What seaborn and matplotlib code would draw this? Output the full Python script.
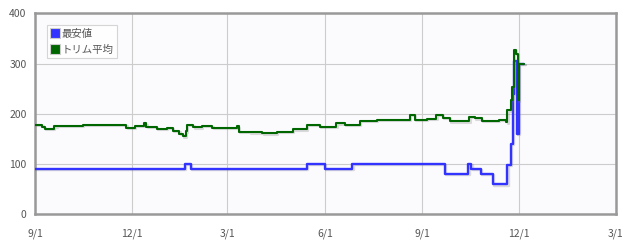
import matplotlib
matplotlib.use("Agg")
import matplotlib.pyplot as plt
import matplotlib.patheffects as pe
from matplotlib.patches import Patch
import seaborn as sns
import pandas as pd

low_dates = ["2022-09-01", "2023-01-20", "2023-01-26", "2023-05-15", "2023-06-01",
             "2023-06-27", "2023-09-22", "2023-10-14", "2023-10-17", "2023-10-26",
             "2023-11-06", "2023-11-20", "2023-11-23", "2023-11-25", "2023-11-26",
             "2023-11-29", "2023-12-01", "2023-12-06"]
low_values = [90, 100, 90, 100, 90, 100, 80, 100, 90, 80, 60, 98, 140, 240, 305, 160, 300, 300]

trim_dates = ["2022-09-01", "2022-09-08", "2022-09-10", "2022-09-19", "2022-09-21",
              "2022-10-16", "2022-11-26", "2022-12-04", "2022-12-13", "2022-12-15",
              "2022-12-25", "2023-01-03", "2023-01-09", "2023-01-15", "2023-01-18",
              "2023-01-21", "2023-01-22", "2023-01-28", "2023-02-05", "2023-02-15",
              "2023-03-10", "2023-03-12", "2023-03-22", "2023-04-03", "2023-04-17",
              "2023-05-02", "2023-05-15", "2023-05-27", "2023-06-12", "2023-06-20",
              "2023-07-04", "2023-07-20", "2023-08-20", "2023-08-25", "2023-09-05",
              "2023-09-14", "2023-09-20", "2023-09-27", "2023-10-15", "2023-10-20",
              "2023-10-27", "2023-11-12", "2023-11-19", "2023-11-20", "2023-11-23",
              "2023-11-24", "2023-11-26", "2023-11-28", "2023-11-30", "2023-12-01",
              "2023-12-06"]
trim_values = [178, 174, 170, 175, 176, 178, 172, 176, 181, 174,
               170, 172, 166, 160, 155, 165, 178, 173, 176, 172,
               175, 164, 163, 161, 164, 169, 178, 174, 181, 178,
               186, 188, 198, 188, 190, 198, 192, 185, 194, 191,
               186, 188, 183, 207, 227, 254, 327, 320, 227, 300,
               300]

x_ticks = ["2022-09-01", "2022-12-01", "2023-03-01", "2023-06-01", "2023-09-01",
           "2023-12-01", "2024-03-01"]
x_labels = ["9/1", "12/1", "3/1", "6/1", "9/1", "12/1", "3/1"]
y_ticks = [0, 100, 200, 300, 400]

series_names = ["最安値", "トリム平均"]
colors = ["#3333ff", "#006600"]

sns.set_style("white")
plt.rcParams['font.family'] = ['Noto Sans CJK JP', 'DejaVu Sans']

fig = plt.figure(figsize=(6.28, 2.44), dpi=100)
ax = fig.add_axes([35/628, 1 - 214.3/244, (615.7 - 35)/628, (214.3 - 13.3)/244])
ax.set_facecolor("#fbfbfe")

low_df = pd.DataFrame({"date": pd.to_datetime(low_dates), "value": low_values})
trim_df = pd.DataFrame({"date": pd.to_datetime(trim_dates), "value": trim_values})

shadow = [pe.SimpleLineShadow(offset=(1.0, -1.0), shadow_color="#777777", alpha=0.25),
          pe.Normal()]
sns.lineplot(data=low_df, x="date", y="value", ax=ax, color=colors[0], lw=1.7,
             drawstyle="steps-post", path_effects=shadow, zorder=3)
sns.lineplot(data=trim_df, x="date", y="value", ax=ax, color=colors[1], lw=1.5,
             drawstyle="steps-post", path_effects=shadow, zorder=4)

ax.set_xlim(pd.Timestamp(x_ticks[0]), pd.Timestamp(x_ticks[-1]))
ax.set_ylim(0, 400)
ax.set_xticks(pd.to_datetime(x_ticks))
ax.set_xticklabels(x_labels)
ax.set_yticks(y_ticks)
ax.set_yticklabels([str(v) for v in y_ticks])
ax.set_xlabel("")
ax.set_ylabel("")
ax.grid(True, color="#cccccc", lw=0.8)
ax.set_axisbelow(True)
for s in ax.spines.values():
    s.set_color("#999999")
    s.set_linewidth(1.8)
ax.tick_params(axis="both", which="both", length=4, width=1, color="#999999",
               labelsize=7.5, labelcolor="#555555", direction="out")
ax.tick_params(axis="x", pad=6)
ax.tick_params(axis="y", pad=2)

handles = [Patch(facecolor=c, edgecolor="#cccccc", linewidth=0.8) for c in colors]
leg = ax.legend(handles, series_names, loc="upper left", bbox_to_anchor=(0.02, 0.94),
                fontsize=7.5, frameon=True, fancybox=False, handlelength=1.0,
                handleheight=1.1, handletextpad=0.15, labelspacing=0.5,
                borderpad=0.3, borderaxespad=0)
leg.get_frame().set_edgecolor("#cccccc")
leg.get_frame().set_linewidth(0.8)
for t in leg.get_texts():
    t.set_color("#555555")

fig.savefig("out.png", dpi=100)
